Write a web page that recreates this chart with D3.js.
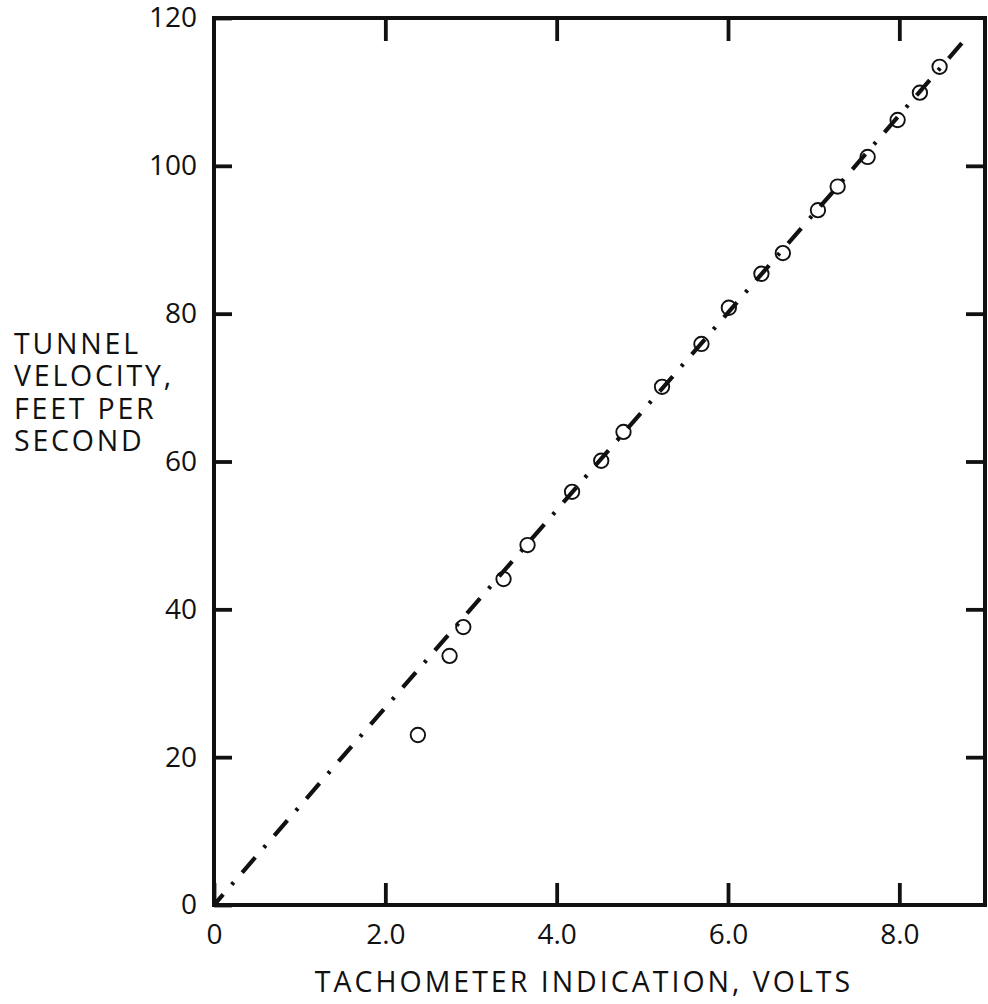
<!DOCTYPE html>
<html>
<head>
<meta charset="utf-8">
<script src="https://cdn.jsdelivr.net/npm/d3@7"></script>
<style>
  html, body { margin: 0; padding: 0; background: #fff; }
  svg { display: block; }
  text { font-family: "Open Sans", "Noto Sans", sans-serif; fill: #111; }
</style>
</head>
<body>
<svg id="chart" width="988" height="1004"></svg>
<script>
// ---- data ----
const voltage = [2.38, 2.75, 2.91, 3.38, 3.66, 4.18, 4.52, 4.78, 5.23, 5.69, 6.01, 6.39, 6.64, 7.05, 7.28, 7.63, 7.98, 8.24, 8.47];
const velocity = [23.0, 33.7, 37.6, 44.1, 48.7, 55.9, 60.1, 64.0, 70.1, 75.9, 80.8, 85.4, 88.2, 94.0, 97.2, 101.2, 106.2, 109.9, 113.4];
const fitX = [0, 8.82];
const fitY = [0, 117.8];
const xTickValues = [0, 2, 4, 6, 8];
const xTickLabels = ["0", "2.0", "4.0", "6.0", "8.0"];
const yTickValues = [0, 20, 40, 60, 80, 100, 120];
const yTickLabels = ["0", "20", "40", "60", "80", "100", "120"];
const xTitle = "TACHOMETER INDICATION, VOLTS";
const yTitleLines = ["TUNNEL", "VELOCITY,", "FEET PER", "SECOND"];

// ---- layout ----
const L = 214, R = 985, T = 18, B = 905;
const svg = d3.select("#chart");
const x = d3.scaleLinear().domain([0, 9]).range([L, R]);
const y = d3.scaleLinear().domain([0, 120]).range([B, T]);
const FS = 28;
const TFS = 28.5;

function styleAxis(g) {
  g.select(".domain").remove();
  g.selectAll(".tick line").attr("stroke", "#111").attr("stroke-width", 3.8);
  g.selectAll(".tick text").attr("font-size", FS).attr("font-family", '"Open Sans", sans-serif').attr("fill", "#111");
}

// bottom axis with labels
svg.append("g").attr("transform", `translate(0,${B})`)
  .call(d3.axisBottom(x).tickValues(xTickValues)
    .tickFormat((d, i) => xTickLabels[i]).tickSize(-22).tickPadding(19))
  .call(styleAxis);

// top axis ticks
svg.append("g").attr("transform", `translate(0,${T})`)
  .call(d3.axisTop(x).tickValues(xTickValues.filter(v => v > 0))
    .tickFormat("").tickSize(-23))
  .call(styleAxis);

// left axis with labels
svg.append("g").attr("transform", `translate(${L},0)`)
  .call(d3.axisLeft(y).tickValues(yTickValues)
    .tickFormat((d, i) => yTickLabels[i]).tickSize(-18).tickPadding(17))
  .call(styleAxis);

// right axis ticks
svg.append("g").attr("transform", `translate(${R},0)`)
  .call(d3.axisRight(y).tickValues(yTickValues.filter(v => v > 0 && v < 120))
    .tickFormat("").tickSize(-19))
  .call(styleAxis);

// frame
svg.append("rect").attr("x", L).attr("y", T).attr("width", R - L).attr("height", B - T)
  .attr("fill", "none").attr("stroke", "#111").attr("stroke-width", 4);

// fitted dash-dot line
const line = d3.line().x(d => x(d[0])).y(d => y(d[1]));
svg.append("path")
  .datum(fitX.map((v, i) => [v, fitY[i]]))
  .attr("d", line)
  .attr("fill", "none").attr("stroke", "#111").attr("stroke-width", 4.2)
  .attr("stroke-dasharray", "20,13,3,13").attr("stroke-dashoffset", 6);

// data points
svg.append("g").selectAll("circle")
  .data(voltage.map((v, i) => [v, velocity[i]]))
  .join("circle")
  .attr("cx", d => x(d[0])).attr("cy", d => y(d[1])).attr("r", 7.2)
  .attr("fill", "none").attr("stroke", "#111").attr("stroke-width", 1.9);

// axis titles
svg.append("text").attr("x", 584).attr("y", 992).attr("text-anchor", "middle")
  .attr("font-size", TFS).attr("letter-spacing", 3).text(xTitle);

yTitleLines.forEach((s, i) => {
  svg.append("text").attr("x", 14).attr("y", 354 + i * 32.3)
    .attr("font-size", TFS).attr("letter-spacing", 2.8).text(s);
});
</script>
</body>
</html>
